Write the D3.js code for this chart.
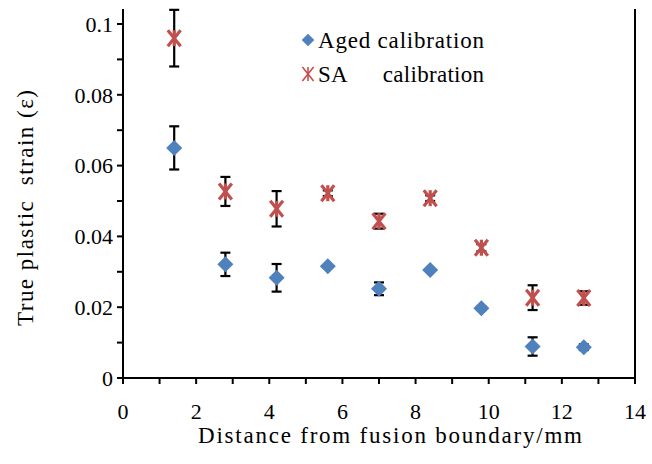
<!DOCTYPE html>
<html>
<head>
<meta charset="utf-8">
<script src="https://cdn.jsdelivr.net/npm/d3@7"></script>
<style>
  html, body { margin: 0; padding: 0; background: #fff; }
  text { font-family: "Liberation Serif", "Times New Roman", serif; }
</style>
</head>
<body>
<svg id="chart" width="652" height="464"></svg>
<script>
// Measurement positions (mm from fusion boundary)
const distances = [1.4, 2.8, 4.2, 5.6, 7.0, 8.4, 9.8, 11.2, 12.6];
// True plastic strain and its error half-width, aged calibration
const agedStrain = [0.065, 0.0321, 0.0283, 0.0316, 0.0252, 0.0305, 0.0197, 0.0089, 0.0087];
const agedError  = [0.0061, 0.0033, 0.0039, 0.0, 0.0018, 0.0, 0.0005, 0.0026, 0.0008];
// True plastic strain and its error half-width, SA calibration
const saStrain = [0.096, 0.0527, 0.0478, 0.0522, 0.0443, 0.0508, 0.0368, 0.0227, 0.0226];
const saError  = [0.008, 0.0041, 0.005, 0.0008, 0.0021, 0.0008, 0.001, 0.0035, 0.0019];
const xTicks = [0, 2, 4, 6, 8, 10, 12, 14];
const yTicks = [0, 0.02, 0.04, 0.06, 0.08, 0.1];

const svg = d3.select("#chart");
const plotLeft = 123, plotRight = 635, plotBottom = 378, plotTop = 9;
const fs = 22;

const x = d3.scaleLinear().domain([0, 14]).range([plotLeft, plotRight]);
const y = d3.scaleLinear().domain([0, 0.1]).range([plotBottom, 24]);

const axisColor = "#000";

// Right frame line
svg.append("line")
  .attr("x1", plotRight).attr("x2", plotRight).attr("y1", plotTop).attr("y2", plotBottom)
  .attr("stroke", axisColor).attr("stroke-width", 2);

// Y axis with minor ticks every 0.01
const yMinor = d3.range(0, 0.1001, 0.01);
const gy = svg.append("g").attr("transform", `translate(${plotLeft},0)`);
gy.append("line").attr("x1", 0).attr("x2", 0).attr("y1", plotTop).attr("y2", plotBottom + 5)
  .attr("stroke", axisColor).attr("stroke-width", 2);
gy.selectAll("line.tick").data(yMinor).join("line")
  .attr("class", "tick")
  .attr("x1", -6).attr("x2", 0)
  .attr("y1", d => y(d)).attr("y2", d => y(d))
  .attr("stroke", axisColor).attr("stroke-width", 2);
gy.selectAll("text").data(yTicks).join("text")
  .attr("x", -10).attr("y", d => y(d))
  .attr("dy", "0.35em")
  .attr("text-anchor", "end")
  .attr("font-size", fs)
  .text(d3.format("~g"));

// X axis with minor ticks every 1 mm
const xMinor = d3.range(0, 14.01, 1);
const gx = svg.append("g").attr("transform", `translate(0,${plotBottom})`);
gx.append("line").attr("x1", plotLeft - 6).attr("x2", plotRight).attr("y1", 0).attr("y2", 0)
  .attr("stroke", axisColor).attr("stroke-width", 2);
gx.selectAll("line.tick").data(xMinor).join("line")
  .attr("class", "tick")
  .attr("x1", d => x(d)).attr("x2", d => x(d))
  .attr("y1", 0).attr("y2", 6)
  .attr("stroke", axisColor).attr("stroke-width", 2);
gx.selectAll("text").data(xTicks).join("text")
  .attr("x", d => x(d)).attr("y", 41)
  .attr("text-anchor", "middle")
  .attr("font-size", fs)
  .text(d => d);

// Axis titles
svg.append("text")
  .attr("x", 198).attr("y", 443)
  .attr("font-size", 23)
  .attr("textLength", 384).attr("lengthAdjust", "spacing")
  .text("Distance from fusion boundary/mm");
svg.append("text")
  .attr("transform", `translate(33,326) rotate(-90)`)
  .attr("font-size", 23)
  .attr("xml:space", "preserve")
  .attr("textLength", 236).attr("lengthAdjust", "spacing")
  .text("True plastic  strain (\u03b5)");

// Series
const aged = distances.map((d, i) => ({ x: d, v: agedStrain[i], e: agedError[i] }));
const sa = distances.map((d, i) => ({ x: d, v: saStrain[i], e: saError[i] }));

function errorBars(data) {
  const g = svg.append("g").attr("stroke", "#000").attr("stroke-width", 2.2);
  const capW = 5;
  data.filter(d => d.e > 0).forEach(d => {
    const cx = x(d.x), y0 = y(d.v - d.e), y1 = y(d.v + d.e);
    g.append("line").attr("x1", cx).attr("x2", cx).attr("y1", y0).attr("y2", y1);
    g.append("line").attr("x1", cx - capW).attr("x2", cx + capW).attr("y1", y0).attr("y2", y0);
    g.append("line").attr("x1", cx - capW).attr("x2", cx + capW).attr("y1", y1).attr("y2", y1);
  });
}
errorBars(aged);
errorBars(sa);

const blue = "#4F81BD", red = "#C0504D";

function drawDiamond(g, cx, cy, size) {
  g.append("path")
    .attr("d", d3.symbol().type(d3.symbolSquare).size(size)())
    .attr("transform", `translate(${cx},${cy}) rotate(45)`)
    .attr("fill", blue);
}
function drawStar(g, cx, cy, r, sw) {
  const s = g.append("g").attr("transform", `translate(${cx},${cy})`)
    .attr("stroke", red).attr("stroke-width", sw).attr("stroke-linecap", "butt");
  const dx = r * 0.8;
  s.append("line").attr("x1", -dx).attr("y1", -r).attr("x2", dx).attr("y2", r);
  s.append("line").attr("x1", -dx).attr("y1", r).attr("x2", dx).attr("y2", -r);
  s.append("line").attr("x1", 0).attr("y1", -r).attr("x2", 0).attr("y2", r);
}

const gm = svg.append("g");
aged.forEach(d => drawDiamond(gm, x(d.x), y(d.v), 128));
sa.forEach(d => drawStar(gm, x(d.x), y(d.v), 8, 3.2));

// Legend
const lg = svg.append("g");
drawDiamond(lg, 308, 40, 80);
lg.append("text").attr("x", 318).attr("y", 48).attr("font-size", 23)
  .attr("textLength", 166).attr("lengthAdjust", "spacing")
  .text("Aged calibration");
drawStar(lg, 308, 74, 7, 1.6);
lg.append("text").attr("x", 318).attr("y", 82).attr("font-size", 23)
  .attr("xml:space", "preserve")
  .attr("textLength", 166).attr("lengthAdjust", "spacing")
  .text("SA      calibration");
</script>
</body>
</html>
